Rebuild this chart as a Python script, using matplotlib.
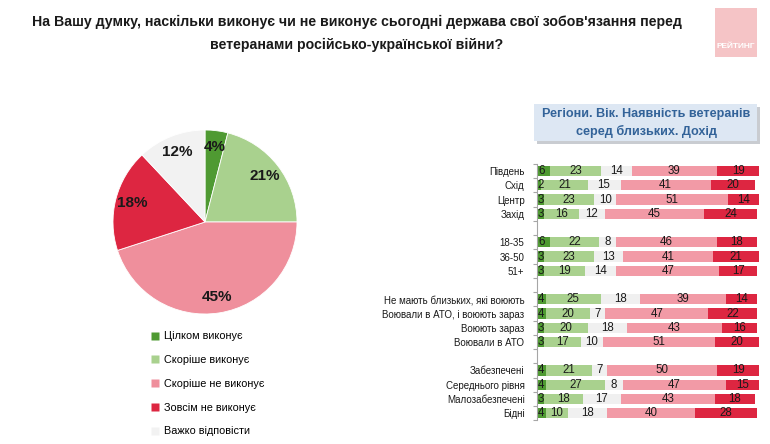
import matplotlib
matplotlib.use('Agg')
import matplotlib.pyplot as plt
from matplotlib.lines import Line2D
from matplotlib.patches import Rectangle
import numpy as np

plt.rcParams['font.family'] = ['Liberation Sans', 'DejaVu Sans']

# data
answers = ['Цілком виконує', 'Скоріше виконує', 'Скоріше не виконує',
           'Зовсім не виконує', 'Важко відповісти']
total = [4, 21, 45, 18, 12]

groups = [
    ['Південь', 'Схід', 'Центр', 'Захід'],
    ['18-35', '36-50', '51+'],
    ['Не мають близьких, які воюють', 'Воювали в АТО, і воюють зараз',
     'Воюють зараз', 'Воювали в АТО'],
    ['Забезпечені', 'Середнього рівня', 'Малозабезпечені', 'Бідні'],
]
# bar columns: fully, rather yes, hard to say, rather no, not at all
full_yes = [6, 2, 3, 3, 6, 3, 3, 4, 4, 3, 3, 4, 4, 3, 4]
rather_yes = [23, 21, 23, 16, 22, 23, 19, 25, 20, 20, 17, 21, 27, 18, 10]
hard_say = [14, 15, 10, 12, 8, 13, 14, 18, 7, 18, 10, 7, 8, 17, 18]
rather_no = [39, 41, 51, 45, 46, 41, 47, 39, 47, 43, 51, 50, 47, 43, 40]
not_at_all = [19, 20, 14, 24, 18, 21, 17, 14, 22, 16, 20, 19, 15, 18, 28]

c_dgreen = '#4f9a32'
c_lgreen = '#a9d18e'
c_grey = '#f0f0f0'
c_pink = '#f29aa6'
c_red = '#dd2641'
pie_colors = [c_dgreen, c_lgreen, '#ef8f9c', c_red, '#f2f2f2']

W, H = 770, 444
fig = plt.figure(figsize=(W / 100, H / 100), dpi=100)
fig.patch.set_facecolor('white')

def px(x0, y0, w, h):
    return [x0 / W, 1 - (y0 + h) / H, w / W, h / H]

# title
fig.text(357 / W, 1 - 22 / H,
         'На Вашу думку, наскільки виконує чи не виконує сьогодні держава свої зобов\'язання перед',
         ha='center', va='center', fontsize=10.2, fontweight='bold', color='#1a1a1a')
fig.text(357 / W, 1 - 45 / H, 'ветеранами російсько-української війни?',
         ha='center', va='center', fontsize=10.2, fontweight='bold', color='#1a1a1a')

# logo
fig.patches.append(Rectangle((715 / W, 1 - 57 / H), 42 / W, 49 / H,
                             transform=fig.transFigure, facecolor='#f5c4c6',
                             edgecolor='none'))
fig.text(736 / W, 1 - 47 / H, 'РЕЙТИНГ', ha='center', va='center',
         fontsize=6, fontweight='bold', color='white')

# pie
ax_pie = fig.add_axes(px(113, 130, 184, 184))
wedges, texts, autotexts = ax_pie.pie(
    total, colors=pie_colors, startangle=90, counterclock=False,
    autopct='%d%%', pctdistance=0.82, radius=1.0,
    wedgeprops=dict(edgecolor='white', linewidth=0.6),
    textprops=dict(fontsize=11, fontweight='bold', color='#1a1a1a'))
ax_pie.set_xlim(-1, 1)
ax_pie.set_ylim(-1, 1)
ax_pie.set_aspect('equal')

# legend
handles = [Line2D([0], [0], marker='s', linestyle='none', markersize=5.5,
                  markerfacecolor=c, markeredgecolor='none') for c in pie_colors]
fig.legend(handles, answers, loc='upper left',
           bbox_to_anchor=(146 / W, 1 - 327 / H), frameon=False,
           fontsize=7.8, labelspacing=1.27, handlelength=0.8, handletextpad=0.45,
           borderaxespad=0)

# header box
fig.patches.append(Rectangle((537 / W, 1 - 144 / H), 223 / W, 37 / H,
                             transform=fig.transFigure, facecolor='#c9ccd1',
                             edgecolor='none'))
fig.patches.append(Rectangle((534 / W, 1 - 141 / H), 223 / W, 37 / H,
                             transform=fig.transFigure, facecolor='#dde7f3',
                             edgecolor='none'))
fig.text(646 / W, 1 - 114 / H, 'Регіони. Вік. Наявність ветеранів',
         ha='center', va='center', fontsize=9.1, fontweight='bold', color='#336399')
fig.text(646 / W, 1 - 131 / H, 'серед близьких. Дохід',
         ha='center', va='center', fontsize=9.1, fontweight='bold', color='#336399')

# bars
labels = []
ypos = []
pos = 0
for g in groups:
    for name in g:
        labels.append(name)
        ypos.append(pos)
        pos += 1
    pos += 1
n_pos = pos - 1
ypos = np.array(ypos)

ax = fig.add_axes(px(537, 164, 222, 14.24 * n_pos))
series = [full_yes, rather_yes, hard_say, rather_no, not_at_all]
colors = [c_dgreen, c_lgreen, c_grey, c_pink, c_red]
left = np.zeros(len(labels))
for vals, col in zip(series, colors):
    vals = np.array(vals)
    ax.barh(ypos, vals, left=left, height=0.72, color=col, edgecolor='none')
    for y, l, v in zip(ypos, left, vals):
        if v <= 6:
            x, ha = l + 0.4, 'left'
        else:
            x, ha = l + v / 2, 'center'
        ax.text(x, y, str(v), ha=ha, va='center', fontsize=8.3, color='#1a1a1a')
    left = left + vals

ax.set_xlim(0, 101)
ax.set_ylim(n_pos - 0.5, -0.5)
ax.set_yticks(ypos)
ax.set_yticklabels(labels, fontsize=7, color='#1a1a1a')
ax.tick_params(axis='y', which='major', length=0, pad=9)
ax.set_yticks(np.arange(-0.5, n_pos, 1), minor=True)
ax.tick_params(axis='y', which='minor', length=3, color='#a6a6a6', width=0.8)
ax.set_xticks([])
for s in ['top', 'right', 'bottom']:
    ax.spines[s].set_visible(False)
ax.spines['left'].set_color('#a6a6a6')
ax.spines['left'].set_linewidth(0.8)
ax.patch.set_alpha(0)

fig.savefig('out.png', dpi=100, facecolor='white')
